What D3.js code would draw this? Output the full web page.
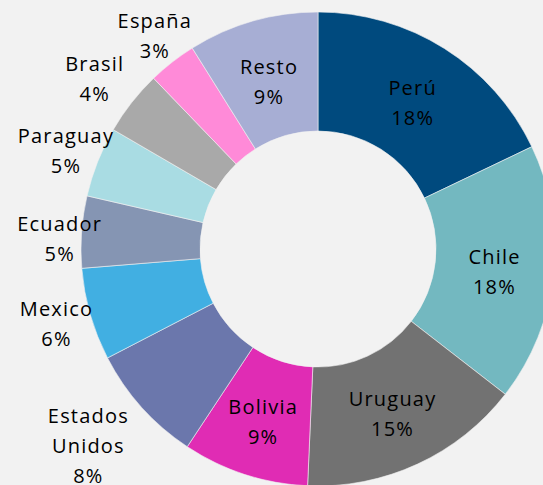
<!DOCTYPE html>
<html><head><meta charset="utf-8">
<script src="https://cdn.jsdelivr.net/npm/d3@7"></script>
<style>html,body{margin:0;padding:0;background:#f2f2f2;overflow:hidden}</style>
</head><body><svg id="c" width="543" height="485"></svg>
<script>
const categories = ["Perú","Chile","Uruguay","Bolivia","Estados Unidos","Mexico","Ecuador","Paraguay","Brasil","España","Resto"];
const values = [17.9, 17.6, 15.2, 8.6, 8.1, 6.3, 4.9, 4.8, 4.4, 3.3, 8.9];
const colors = ["#004a7e","#73b8c0","#727272","#e02cb4","#6b77ac","#41afe2","#8595b3","#a9dce3","#a9a9a9","#ff8ad8","#a7aed4"];
const insideLabels = ["Perú","Chile","Uruguay","Bolivia","Resto"];

const W = 543, H = 485, cx = 318, cy = 249, rOut = 237, rIn = 118;
// small manual nudges of outside labels (best-fit placement)
const nudge = {"España":[3,0],"Brasil":[-11,-3],"Paraguay":[-1,1],"Ecuador":[11,9],"Mexico":[-2,0],"Estados Unidos":[-5,-5]};
const svg = d3.select("#c");
svg.append("rect").attr("width", W).attr("height", H).attr("fill", "#f2f2f2");
const g = svg.append("g").attr("transform", `translate(${cx},${cy})`);
const total = d3.sum(values);
const data = categories.map((c, i) => ({name: c, value: values[i], color: colors[i]}));
const pie = d3.pie().value(d => d.value).sort(null);
const arcs = pie(data);
const arc = d3.arc().innerRadius(rIn).outerRadius(rOut);
g.selectAll("path").data(arcs).join("path")
  .attr("d", arc).attr("fill", d => d.data.color)
  .attr("stroke", "#f2f2f2").attr("stroke-width", 0.6);

const fontFam = "'Open Sans', 'Noto Sans', sans-serif";
const lineH = 30;
arcs.forEach(a => {
  const pct = Math.round(a.data.value / total * 100) + "%";
  const inside = insideLabels.includes(a.data.name);
  const lines = a.data.name === "Estados Unidos" ? ["Estados", "Unidos", pct] : [a.data.name, pct];
  const mid = (a.startAngle + a.endAngle) / 2;
  let r;
  if (inside) r = (rIn + rOut) / 2;
  else r = lines.length > 2 ? rOut + 65 : rOut + 33;
  const nd = nudge[a.data.name] || [0, 0];
  const x = r * Math.sin(mid) + nd[0], y = -r * Math.cos(mid) + (inside ? 4 : 0) + nd[1];
  const t = g.append("text").attr("text-anchor", "middle")
    .attr("font-family", fontFam).attr("font-size", 20).attr("letter-spacing", 1.2)
    .attr("fill", "#000");
  lines.forEach((l, i) => {
    t.append("tspan").attr("x", x)
      .attr("y", y + (i - (lines.length - 1) / 2) * lineH)
      .attr("dy", "0.35em").text(l);
  });
});
</script></body></html>
